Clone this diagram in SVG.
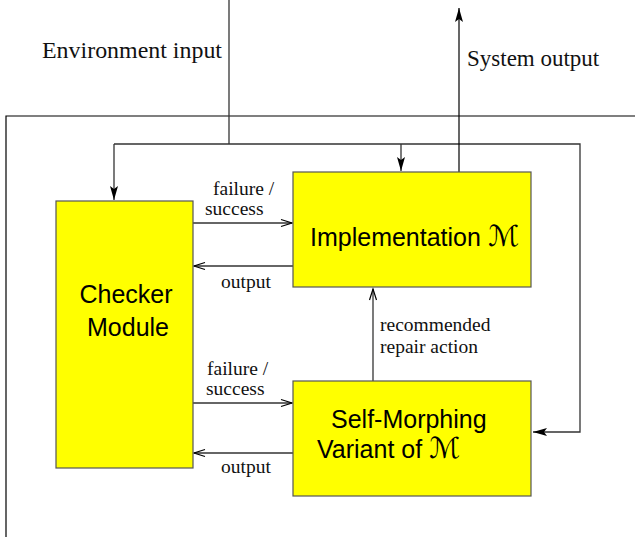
<svg xmlns="http://www.w3.org/2000/svg" width="635" height="537" viewBox="0 0 635 537">
  <style>
    .box { fill: #ffff00; stroke: #555; stroke-width: 1.2; }
    .line { fill: none; stroke: #333; stroke-width: 1.3; }
    .sys { fill: none; stroke: #000; stroke-width: 1.2; }
    .lbl { font-family: "Liberation Serif", "Times New Roman", serif; font-size: 19.5px; fill: #111; }
    .big { font-family: "Liberation Serif", "Times New Roman", serif; font-size: 23px; fill: #111; }
    .node { font-family: "Liberation Sans", Arial, sans-serif; font-size: 25px; fill: #000; }
    .cal { font-family: "DejaVu Sans", sans-serif; font-weight: normal; font-size: 29px; }
  </style>
  <defs>
    <marker id="solid" markerWidth="16" markerHeight="10" refX="14" refY="5" orient="auto" markerUnits="userSpaceOnUse">
      <path d="M0,1 L14,5 L0,9 L3,5 z" fill="#000"/>
    </marker>
    <marker id="open" markerWidth="14" markerHeight="10" refX="12" refY="5" orient="auto" markerUnits="userSpaceOnUse">
      <path d="M1,1.5 L12,5 L1,8.5" fill="none" stroke="#000" stroke-width="1.2"/>
    </marker>
  </defs>

  <!-- system boundary -->
  <path class="sys" d="M635,116 H6 V537"/>

  <g id="connectors">
    <!-- environment input feed and distribution bus -->
    <path class="line" d="M229,0 V144"/>
    <path class="line" d="M114,144 H580 V432 H533" marker-end="url(#solid)"/>
    <path class="line" d="M114,144 V200" marker-end="url(#solid)"/>
    <path class="line" d="M401,144 V171" marker-end="url(#solid)"/>
    <!-- system output -->
    <path class="sys" d="M459,172 V8" marker-end="url(#solid)"/>
    <!-- checker <-> implementation -->
    <path class="line" d="M193,223 H292" marker-end="url(#open)"/>
    <path class="line" d="M293,266 H194" marker-end="url(#open)"/>
    <!-- checker <-> variant -->
    <path class="line" d="M193,403 H292" marker-end="url(#open)"/>
    <path class="line" d="M293,453 H194" marker-end="url(#open)"/>
    <!-- repair action -->
    <path class="line" d="M373,381 V289" marker-end="url(#open)"/>
  </g>

  <g id="labels">
    <text class="big" x="42" y="58" textLength="180" lengthAdjust="spacingAndGlyphs">Environment input</text>
    <text class="big" x="467" y="66">System output</text>
    <text class="lbl" x="213" y="195">failure /</text>
    <text class="lbl" x="205" y="215">success</text>
    <text class="lbl" x="221" y="288">output</text>
    <text class="lbl" x="207" y="375">failure /</text>
    <text class="lbl" x="206" y="395">success</text>
    <text class="lbl" x="221" y="473">output</text>
    <text class="lbl" x="380" y="331">recommended</text>
    <text class="lbl" x="380" y="353">repair action</text>
  </g>

  <g id="checker">
    <rect class="box" x="56" y="201" width="137" height="267"/>
    <text class="node" x="126" y="303" text-anchor="middle">Checker</text>
    <text class="node" x="128" y="336" text-anchor="middle">Module</text>
  </g>

  <g id="implementation">
    <rect class="box" x="293" y="172" width="238" height="115"/>
    <text class="node" x="310" y="246">Implementation <tspan class="cal">ℳ</tspan></text>
  </g>

  <g id="variant">
    <rect class="box" x="293" y="381" width="238" height="115"/>
    <text class="node" x="331" y="428">Self-Morphing</text>
    <text class="node" x="317" y="458">Variant of <tspan class="cal">ℳ</tspan></text>
  </g>
</svg>
